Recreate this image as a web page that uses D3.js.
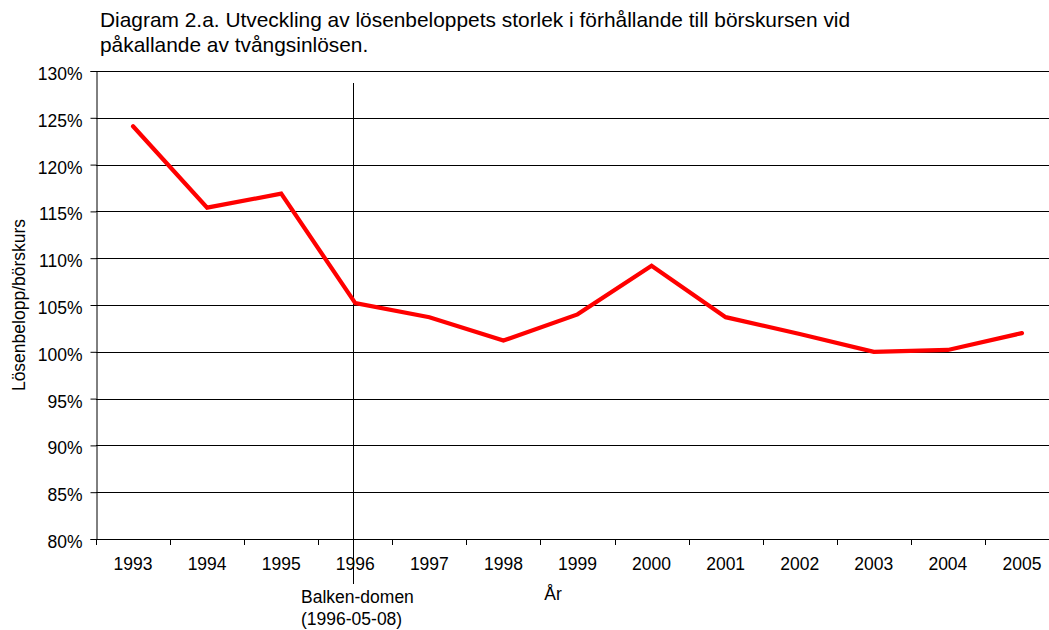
<!DOCTYPE html>
<html><head><meta charset="utf-8">
<script src="https://cdn.jsdelivr.net/npm/d3@7"></script>
<style>body{margin:0;background:#fff}svg{display:block}text{font-family:"Liberation Sans",Arial,sans-serif;fill:#000}</style>
</head><body><svg id="c" width="1049" height="630"></svg>
<script>
const years = ["1993","1994","1995","1996","1997","1998","1999","2000","2001","2002","2003","2004","2005"];
const values = [124.1,115.4,116.9,105.2,103.7,101.2,104.0,109.2,103.7,101.9,100.0,100.2,102.0];
const yTicks = [80,85,90,95,100,105,110,115,120,125,130];
const titleLines = ["Diagram 2.a. Utveckling av lösenbeloppets storlek i förhållande till börskursen vid","påkallande av tvångsinlösen."];
const markerYear = "1996";
const markerLabel = ["Balken-domen","(1996-05-08)"];
const xTitle = "År", yTitle = "Lösenbelopp/börskurs";

const svg = d3.select("#c");
const L=96, R=1059, T=71, B=539;
const x = d3.scaleBand().domain(years).range([L,R]);
const y = d3.scaleLinear().domain([80,130]).range([B,T]);

// gridlines
svg.append("g").selectAll("line").data(yTicks).join("line")
 .attr("x1",L).attr("x2",R).attr("y1",d=>Math.round(y(d))+0.5).attr("y2",d=>Math.round(y(d))+0.5)
 .attr("stroke","#000").attr("stroke-width",1);
// y axis
const ya = d3.axisLeft(y).tickValues(yTicks).tickFormat(d=>d+"%").tickSize(6).tickPadding(8);
svg.append("g").attr("transform",`translate(${L+0.5},0)`).call(ya)
 .call(s=>{s.select(".domain").attr("stroke","#000");
   s.selectAll("text").attr("font-size",17.5).attr("dy","0.48em").style("font-family","Liberation Sans, Arial");});
// x axis ticks at band boundaries
const bounds = years.map(d=>x(d)).concat([R]);
svg.append("g").selectAll("line").data(bounds).join("line")
 .attr("x1",d=>Math.round(d)+0.5).attr("x2",d=>Math.round(d)+0.5).attr("y1",B).attr("y2",B+6).attr("stroke","#000");
svg.append("line").attr("x1",L).attr("x2",R).attr("y1",B+0.5).attr("y2",B+0.5).attr("stroke","#000");
svg.append("g").selectAll("text").data(years).join("text")
 .attr("x",d=>x(d)+x.bandwidth()/2).attr("y",570).attr("text-anchor","middle").attr("font-size",17.5).text(d=>d);
// marker line
const mx = Math.round(x(markerYear)+x.bandwidth()/2)-1.5;
svg.append("line").attr("x1",mx).attr("x2",mx).attr("y1",83).attr("y2",584).attr("stroke","#000").attr("stroke-width",1);
svg.append("g").selectAll("text").data(markerLabel).join("text").attr("x",301).attr("y",(d,i)=>603+i*21.5).attr("font-size",17.5).text(d=>d);
// line
const line = d3.line().x((d,i)=>x(years[i])+x.bandwidth()/2).y(d=>y(d));
svg.append("path").datum(values).attr("d",line).attr("fill","none").attr("stroke","#ff0000").attr("stroke-width",4.2).attr("stroke-linejoin","miter").attr("stroke-linecap","round");
// titles
svg.append("g").selectAll("text").data(titleLines).join("text").attr("x",100).attr("y",(d,i)=>26.5+i*25.5).attr("font-size",20.9).text(d=>d);
svg.append("text").attr("x",553).attr("y",600).attr("text-anchor","middle").attr("font-size",17.5).text(xTitle);
svg.append("text").attr("transform","translate(25,305) rotate(-90)").attr("text-anchor","middle").attr("font-size",17.5).text(yTitle);
</script></body></html>
